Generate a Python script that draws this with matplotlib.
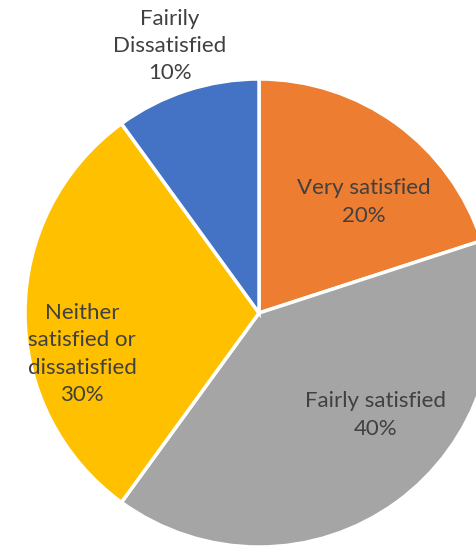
import matplotlib.pyplot as plt

# satisfaction survey pie
labels = ["Very satisfied", "Fairly satisfied", "Neither\nsatisfied or\ndissatisfied", "Fairily\nDissatisfied"]
values = [20, 40, 30, 10]
colors = ["#ED7D31", "#A5A5A5", "#FFC000", "#4472C4"]

fig = plt.figure(figsize=(4.77, 5.51), dpi=100)
ax = fig.add_axes([0, 0, 1, 1])
cx, cy, r = 259, 551 - 313, 234
wedges, _ = ax.pie(values, colors=colors, startangle=90, counterclock=False,
                   center=(cx, cy), radius=r,
                   wedgeprops=dict(edgecolor="white", linewidth=2.5))

# label centres (pixels from top-left)
label_pos = [(364, 202), (376, 415), (82, 354), (170, 46)]
for lab, v, (x, y) in zip(labels, values, label_pos):
    ax.text(x, 551 - y, f"{lab}\n{v}%", ha="center", va="center", fontsize=16,
            color="#404040", family="Lato", linespacing=1.45)

ax.set_xlim(0, 477)
ax.set_ylim(0, 551)
ax.set_aspect("equal")
ax.axis("off")
fig.savefig("out.png", dpi=100)
